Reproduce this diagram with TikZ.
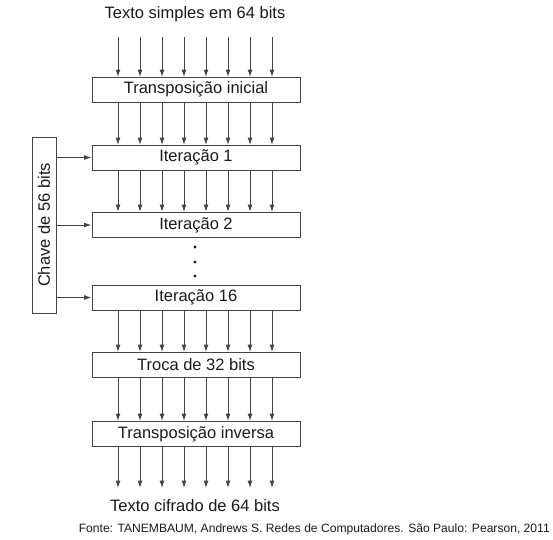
\documentclass[tikz,border=0pt]{standalone}
\usepackage{fontspec}
\setmainfont{Liberation Sans}
\usetikzlibrary{arrows.meta}
\definecolor{linec}{HTML}{444444}
\definecolor{textc}{HTML}{1A1A1A}
\begin{document}
\begin{tikzpicture}[x=1pt,y=-1pt,
  stagebox/.style={draw=linec,line width=1pt,minimum width=208pt,minimum height=25pt,inner sep=0pt,font=\fontsize{16.5}{19}\selectfont,text=textc},
  arr/.style={draw=linec,line width=1pt,-{Latex[length=7.5pt,width=5pt]}},
  lbl/.style={font=\fontsize{16.5}{19}\selectfont,text=textc,inner sep=0pt}]
\useasboundingbox (0,0) rectangle (553,539);
\node[lbl] (top) at (195,14) {Texto simples em 64 bits};
\node[stagebox] (b0) at (196,89.5) {Transposição inicial};
\node[stagebox] (b1) at (196,157.5) {Iteração 1};
\node[stagebox] (b2) at (196,225) {Iteração 2};
\node[stagebox] (b16) at (196,297.5) {Iteração 16};
\node[stagebox] (bt) at (196,365) {Troca de 32 bits};
\node[stagebox] (bi) at (196,434) {Transposição inversa};
\node[lbl] (bot) at (195,506) {Texto cifrado de 64 bits};
\node[font=\fontsize{12.1}{14}\selectfont,text=textc,anchor=east,inner sep=0pt] (src) at (550,529) {Fonte: TANEMBAUM, Andrews S. Redes de Computadores. São Paulo: Pearson, 2011};
\node[draw=linec,line width=1pt,minimum width=176pt,minimum height=24pt,inner sep=0pt,rotate=90,font=\fontsize{16.5}{19}\selectfont,text=textc] (key) at (44,225) {Chave de 56 bits};
% dots
\node[circle,fill=textc,inner sep=0pt,minimum size=3.4pt] (d1) at (195,247) {};
\node[circle,fill=textc,inner sep=0pt,minimum size=3.4pt] (d2) at (195,262) {};
\node[circle,fill=textc,inner sep=0pt,minimum size=3.4pt] (d3) at (195,276) {};
\foreach \i in {0,...,7}{
  \pgfmathsetmacro{\xx}{118+22*\i}
  \coordinate (s\i) at (\xx,37);
  \coordinate (e\i) at (\xx,488);
  \draw[arr] (s\i) -- (\xx,77);
  \draw[arr] (\xx,102) -- (\xx,145);
  \draw[arr] (\xx,170) -- (\xx,212);
  \draw[arr] (\xx,310) -- (\xx,352);
  \draw[arr] (\xx,378) -- (\xx,421);
  \draw[arr] (\xx,447) -- (e\i);
}
\draw[arr] (key.south |- b1.west) -- (b1.west);
\draw[arr] (key.south |- b2.west) -- (b2.west);
\draw[arr] (key.south |- b16.west) -- (b16.west);
\end{tikzpicture}
\end{document}
